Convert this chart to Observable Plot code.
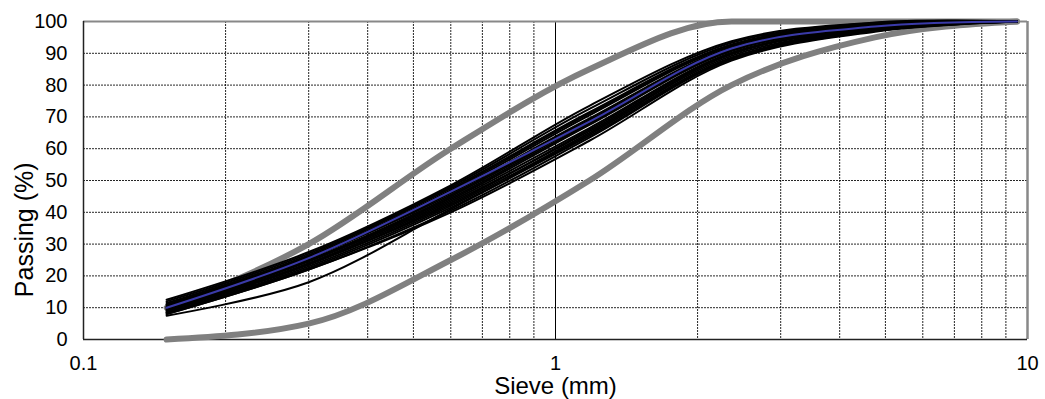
<!DOCTYPE html>
<html>
<head>
<meta charset="utf-8">
<script src="https://cdn.jsdelivr.net/npm/d3@7"></script>
<script src="https://cdn.jsdelivr.net/npm/@observablehq/plot@0.6"></script>
<style>
  html, body { margin: 0; padding: 0; background: #fff; }
  #chart svg { display: block; }
</style>
</head>
<body>
<div id="chart"></div>
<script>
// Sieve sizes (mm)
const sieves = [0.15, 0.3, 0.6, 1.18, 2.36, 4.75, 9.5];
// Specification limits (% passing)
const upperLimit = [10, 30, 60, 85, 100, 100, 100];
const lowerLimit = [0, 5, 25, 50, 80, 95, 100];
// Average gradation (% passing)
const meanGradation = [10, 25.6, 46.5, 68.5, 91.5, 98.4, 100];
// Individual sample gradations (% passing)
const samples = [
  [12.5, 27.5, 48.5, 73.5, 93.8, 99.7, 100],
  [12, 27, 48, 72.5, 93.3, 99.5, 100],
  [11.5, 26.5, 47.5, 71.5, 92.8, 99.2, 100],
  [11, 26, 46.5, 70.5, 92.3, 99, 100],
  [10.5, 26, 47, 71, 92.5, 99.2, 100],
  [10.5, 25.5, 46, 69.5, 91.8, 98.8, 100],
  [11, 25.8, 45.5, 69, 91.3, 98.6, 100],
  [10, 25, 45, 68.5, 91.2, 98.5, 100],
  [10, 24.8, 44.5, 68, 91, 98.4, 100],
  [9.5, 24.5, 44, 67.5, 90.7, 98.3, 100],
  [9, 24, 43.5, 66.5, 90.2, 98, 100],
  [9.5, 23.8, 42.5, 66, 90, 98, 100],
  [9, 23.5, 43, 65.5, 89.7, 97.8, 100],
  [8.5, 23, 42, 65, 89.2, 97.5, 100],
  [8.5, 22.5, 41.5, 64.5, 88.7, 97.3, 100],
  [8, 22, 40.5, 63.5, 88.2, 97, 100],
  [8, 22, 40, 62.5, 87.7, 96.8, 100],
  [7.5, 18, 41, 64, 88.2, 97, 100]
];
// Axis ticks
const yTicks = [0, 10, 20, 30, 40, 50, 60, 70, 80, 90, 100];
const xTicks = [0.1, 1, 10];
const xMinor = [0.2, 0.3, 0.4, 0.5, 0.6, 0.7, 0.8, 0.9, 2, 3, 4, 5, 6, 7, 8, 9];
const yGrid = [10, 20, 30, 40, 50, 60, 70, 80, 90];

const toRows = (vals, id) => sieves.map((s, i) => ({sieve: s, pass: vals[i], id}));
const limitRows = [...toRows(upperLimit, "upper"), ...toRows(lowerLimit, "lower")];
const sampleRows = samples.flatMap((v, k) => toRows(v, "s" + k));
const meanRows = toRows(meanGradation, "mean");

const chart = Plot.plot({
  width: 1045,
  height: 399,
  marginLeft: 83,
  marginRight: 18,
  marginTop: 21,
  marginBottom: 60,
  style: {fontFamily: "'Liberation Sans', Arial, sans-serif", background: "#fff", color: "#000"},
  x: {type: "log", domain: [0.1, 10]},
  y: {domain: [0, 100]},
  marks: [
    Plot.gridX(xMinor, {stroke: "#000", strokeOpacity: 0.85, strokeWidth: 1, strokeDasharray: "2,1"}),
    Plot.gridY(yGrid, {stroke: "#000", strokeOpacity: 0.85, strokeWidth: 1, strokeDasharray: "2,1"}),
    Plot.ruleX([1], {stroke: "#000", strokeWidth: 1}),
    Plot.ruleY([100], {stroke: "#888", strokeWidth: 2}),
    Plot.ruleX([10], {stroke: "#888", strokeWidth: 2.5}),
    Plot.ruleX([0.1], {stroke: "#222", strokeWidth: 1.5}),
    Plot.ruleY([0], {stroke: "#222", strokeWidth: 1.5}),
    Plot.line(limitRows, {x: "sieve", y: "pass", z: "id", stroke: "#808080", strokeWidth: 6, curve: "monotone-x", strokeLinecap: "round"}),
    Plot.line(sampleRows, {x: "sieve", y: "pass", z: "id", stroke: "#000", strokeWidth: 2, curve: "catmull-rom"}),
    Plot.line(meanRows, {x: "sieve", y: "pass", stroke: "#3a3aa8", strokeWidth: 2, curve: "catmull-rom"}),
    Plot.axisY({ticks: yTicks, tickSize: 0, tickPadding: 16, fontSize: 20, label: null}),
    Plot.axisX({ticks: xTicks, tickFormat: d => String(d), tickSize: 0, tickPadding: 16, fontSize: 20, label: null}),
    Plot.text(["Passing (%)"], {x: 0.1, y: 34.5, dx: -59, rotate: -90, fontSize: 25, fill: "#000"}),
    Plot.text(["Sieve (mm)"], {x: 1, y: 0, dy: 47, fontSize: 24, fill: "#000"})
  ]
});
document.getElementById("chart").appendChild(chart);
</script>
</body>
</html>
